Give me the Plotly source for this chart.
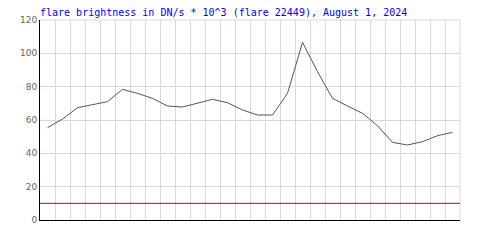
import plotly.graph_objects as go

brightness = [55.4, 60.6, 67.4, 69.4, 71.0, 78.4, 76.0, 73.0, 68.4, 67.8,
              70.0, 72.4, 70.4, 66.0, 63.0, 63.0, 76.0, 106.6, 89.0, 73.0,
              68.4, 64.0, 56.6, 46.6, 45.0, 47.0, 50.6, 52.6]
threshold = 10
y_ticks = [0, 20, 40, 60, 80, 100, 120]
title_text = "flare brightness in DN/s * 10^3 (flare 22449), August 1, 2024"

n = len(brightness)
xs = [i + 0.5 for i in range(n)]

fig = go.Figure()
fig.add_trace(go.Scatter(x=xs, y=brightness, mode="lines",
                         line=dict(color="#555555", width=1), hoverinfo="skip"))
fig.add_shape(type="line", xref="paper", x0=0, x1=1, yref="y", y0=threshold, y1=threshold,
              line=dict(color="#cc0000", width=1))
# light border on top and right edges (grid continuation)
fig.add_shape(type="line", xref="paper", x0=0, x1=1, yref="paper", y0=1, y1=1,
              line=dict(color="#d9d9d9", width=1), layer="below")
fig.add_shape(type="line", xref="paper", x0=1, x1=1, yref="paper", y0=0, y1=1,
              line=dict(color="#d9d9d9", width=1), layer="below")

fig.update_layout(
    width=500, height=250,
    margin=dict(l=40, r=40, t=20, b=30),
    paper_bgcolor="white", plot_bgcolor="white",
    showlegend=False,
    title=dict(text=title_text, x=40/500, xref="container", xanchor="left",
               y=1-12/250, yref="container", yanchor="middle",
               font=dict(family="DejaVu Sans Mono", size=10, color="#0000ff")),
    xaxis=dict(range=[0, n], dtick=1, tick0=0, showticklabels=False, ticks="",
               showgrid=True, gridcolor="#d9d9d9", gridwidth=1,
               showline=True, linecolor="black", linewidth=1, zeroline=False, fixedrange=True),
    yaxis=dict(range=[0, 120], tickvals=y_ticks, ticks="", ticklen=0,
               showgrid=True, gridcolor="#d9d9d9", gridwidth=1,
               showline=True, linecolor="black", linewidth=1, zeroline=False,
               tickfont=dict(family="DejaVu Sans", size=9, color="#666666"), fixedrange=True),
)
fig.write_html("out.html", config={"displayModeBar": False})
